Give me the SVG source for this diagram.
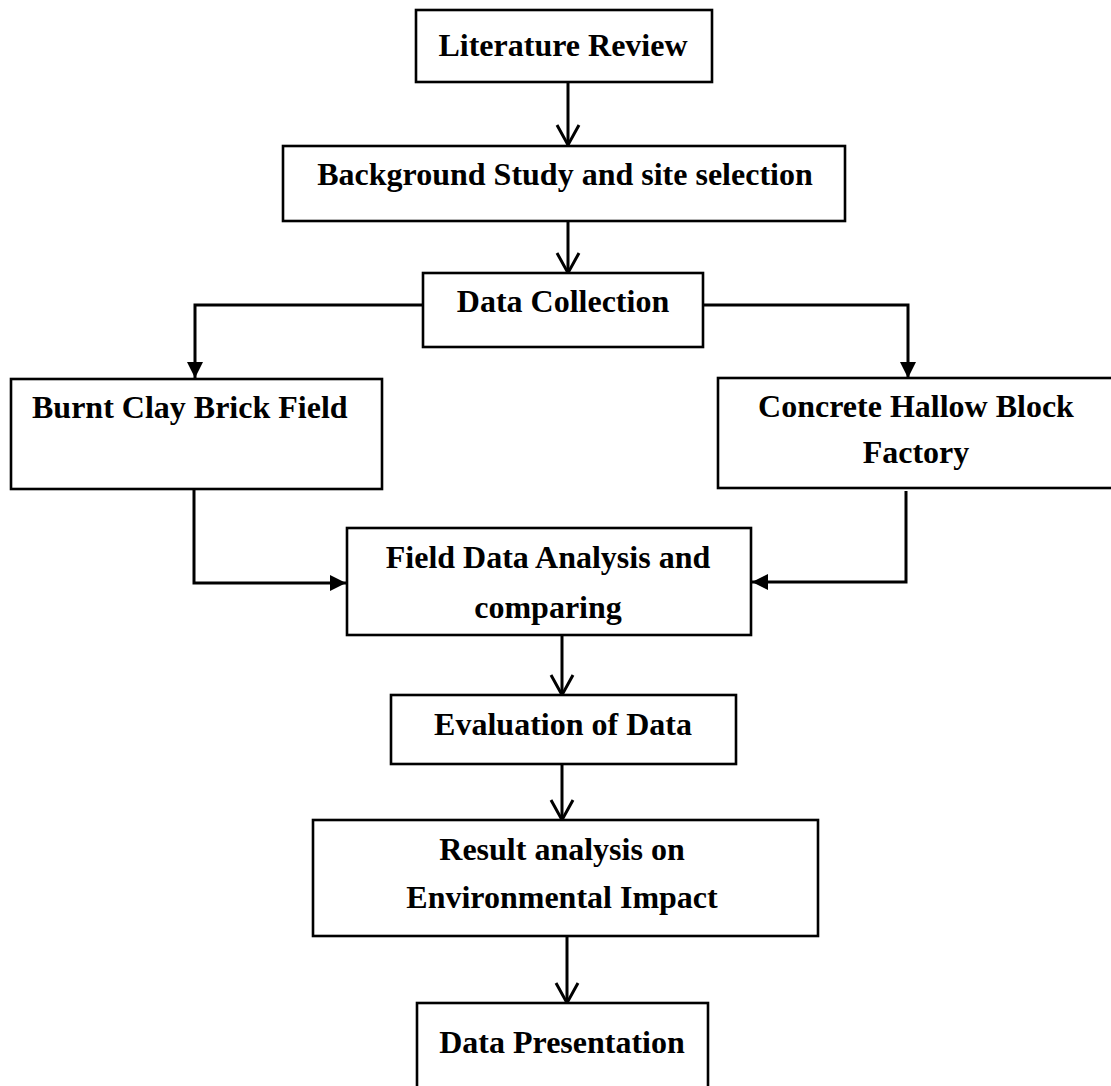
<svg xmlns="http://www.w3.org/2000/svg" width="1111" height="1086" viewBox="0 0 1111 1086">
<style>
.box{fill:#fff;stroke:#000;stroke-width:2.6}
.lbl{font-family:"Liberation Serif","Times New Roman",serif;font-weight:bold;font-size:32px;fill:#000;text-anchor:middle}
.con{fill:none;stroke:#000;stroke-width:3}
</style>
<defs>
<marker id="tri" markerUnits="userSpaceOnUse" markerWidth="18" markerHeight="18" refX="16" refY="8" orient="auto" overflow="visible">
<path d="M0,0 L16,8 L0,16 z" fill="#000"/>
</marker>
<marker id="chev" markerUnits="userSpaceOnUse" markerWidth="24" markerHeight="26" refX="20" refY="11" orient="auto" overflow="visible">
<path d="M0,0 L20,11 L0,22" fill="none" stroke="#000" stroke-width="3"/>
</marker>
</defs>
<rect width="1111" height="1086" fill="#fff"/>
<g id="connectors">
<line class="con" x1="568" y1="82" x2="568" y2="145" marker-end="url(#chev)"/>
<line class="con" x1="568" y1="221" x2="568" y2="273" marker-end="url(#chev)"/>
<polyline class="con" points="423,305 195,305 195,378" marker-end="url(#tri)"/>
<polyline class="con" points="703,305 908,305 908,378" marker-end="url(#tri)"/>
<polyline class="con" points="194,489 194,583 346,583" marker-end="url(#tri)"/>
<polyline class="con" points="906,491 906,582 752,582" marker-end="url(#tri)"/>
<line class="con" x1="562" y1="635" x2="562" y2="695" marker-end="url(#chev)"/>
<line class="con" x1="562" y1="764" x2="562" y2="820" marker-end="url(#chev)"/>
<line class="con" x1="567" y1="936" x2="567" y2="1003" marker-end="url(#chev)"/>
</g>
<g id="literature-review">
<rect class="box" x="416" y="10" width="296" height="72"/>
<text class="lbl" x="563" y="56">Literature Review</text>
</g>
<g id="background-study">
<rect class="box" x="283" y="146" width="562" height="75"/>
<text class="lbl" x="565" y="185">Background Study and site selection</text>
</g>
<g id="data-collection">
<rect class="box" x="423" y="273" width="280" height="74"/>
<text class="lbl" x="563" y="312">Data Collection</text>
</g>
<g id="burnt-clay">
<rect class="box" x="11" y="379" width="371" height="110"/>
<text class="lbl" x="32" y="418" style="text-anchor:start">Burnt Clay Brick Field</text>
</g>
<g id="concrete-block">
<rect class="box" x="718" y="378" width="400" height="110"/>
<text class="lbl" x="916" y="417">Concrete Hallow Block</text>
<text class="lbl" x="916" y="463">Factory</text>
</g>
<g id="field-data-analysis">
<rect class="box" x="347" y="528" width="404" height="107"/>
<text class="lbl" x="548" y="568">Field Data Analysis and</text>
<text class="lbl" x="548" y="618">comparing</text>
</g>
<g id="evaluation">
<rect class="box" x="391" y="695" width="345" height="69"/>
<text class="lbl" x="563" y="735">Evaluation of Data</text>
</g>
<g id="result-analysis">
<rect class="box" x="313" y="820" width="505" height="116"/>
<text class="lbl" x="562" y="860">Result analysis on</text>
<text class="lbl" x="562" y="908">Environmental Impact</text>
</g>
<g id="data-presentation">
<rect class="box" x="417" y="1003" width="291" height="100"/>
<text class="lbl" x="562" y="1053">Data Presentation</text>
</g>
</svg>
